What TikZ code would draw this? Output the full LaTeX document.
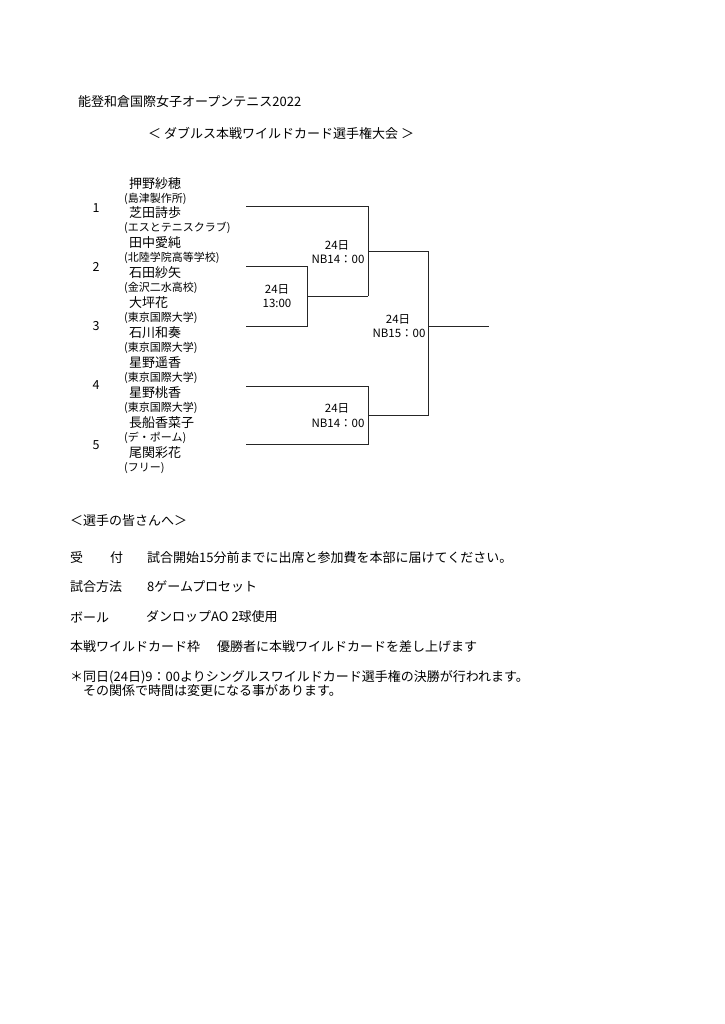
\documentclass[tikz,border=0pt]{standalone}
\usepackage{fontspec}
\setmainfont{Noto Sans CJK JP}
\begin{document}
\begin{tikzpicture}[x=1pt,y=-1pt,
  txt/.style={anchor=west,inner sep=0pt,font=\fontsize{13}{15}\selectfont},
  nm/.style={anchor=west,inner sep=0pt,font=\fontsize{13}{15}\selectfont},
  aff/.style={anchor=west,inner sep=0pt,font=\fontsize{11}{12}\selectfont},
  seed/.style={anchor=center,inner sep=0pt,font=\fontsize{12.5}{14}\selectfont},
  lab/.style={anchor=center,inner sep=0pt,font=\fontsize{11.5}{13}\selectfont},
  br/.style={line width=1pt,draw=black!85}]
\useasboundingbox[fill=white] (0,0) rectangle (724,1024);
% titles
\node[txt] (title) at (78,102) {能登和倉国際女子オープンテニス2022};
\node[txt] (sub) at (148,133) {＜ ダブルス本戦ワイルドカード選手権大会 ＞};
% players
\node[nm]  (n1)  at (129,184) {押野紗穂};
\node[aff] (f1)  at (124,199) {(島津製作所)};
\node[nm]  (n2)  at (129,213) {芝田詩歩};
\node[aff] (f2)  at (124,228) {(エスとテニスクラブ)};
\node[nm]  (n3)  at (129,243) {田中愛純};
\node[aff] (f3)  at (124,258) {(北陸学院高等学校)};
\node[nm]  (n4)  at (129,273) {石田紗矢};
\node[aff] (f4)  at (124,288) {(金沢二水高校)};
\node[nm]  (n5)  at (129,303) {大坪花};
\node[aff] (f5)  at (124,318) {(東京国際大学)};
\node[nm]  (n6)  at (129,333) {石川和奏};
\node[aff] (f6)  at (124,348) {(東京国際大学)};
\node[nm]  (n7)  at (129,363) {星野遥香};
\node[aff] (f7)  at (124,378) {(東京国際大学)};
\node[nm]  (n8)  at (129,393) {星野桃香};
\node[aff] (f8)  at (124,408) {(東京国際大学)};
\node[nm]  (n9)  at (129,423) {長船香菜子};
\node[aff] (f9)  at (124,438) {(デ・ポーム)};
\node[nm]  (n10) at (129,453) {尾関彩花};
\node[aff] (f10) at (124,468) {(フリー)};
% seeds
\node[seed] (s1) at (96,208) {1};
\node[seed] (s2) at (96,267) {2};
\node[seed] (s3) at (96,326) {3};
\node[seed] (s4) at (96,385) {4};
\node[seed] (s5) at (96,445) {5};
% bracket coordinates
\coordinate (a1) at (246,207); \coordinate (a1e) at (368,207);
\coordinate (a2) at (246,266); \coordinate (a2e) at (307,266);
\coordinate (a3) at (246,326); \coordinate (a3e) at (307,326);
\coordinate (m23) at (307,296); \coordinate (m23e) at (368,296);
\coordinate (q1) at (368,251); \coordinate (q1e) at (428,251);
\coordinate (a4) at (246,386); \coordinate (a4e) at (368,386);
\coordinate (a5) at (246,444); \coordinate (a5e) at (368,444);
\coordinate (q2) at (368,415); \coordinate (q2e) at (428,415);
\coordinate (fin) at (428,326); \coordinate (fine) at (489,326);
\draw[br] (a2) -- (a2e) -- (a3e) -- (a3);
\draw[br] (m23) -- (m23e);
\draw[br] (a1) -- (a1e) -- (m23e);
\draw[br] (q1) -- (q1e) -- (q2e) -- (q2);
\draw[br] (a4) -- (a4e) -- (a5e) -- (a5);
\draw[br] (fin) -- (fine);
% labels
\node[lab] (l1a) at (337,245) {24日};
\node[lab] (l1b) at (338,259) {NB14：00};
\node[lab] (l2a) at (277,289) {24日};
\node[lab] (l2b) at (277,303) {13:00};
\node[lab] (l3a) at (398,319) {24日};
\node[lab] (l3b) at (399,333) {NB15：00};
\node[lab] (l4a) at (337,408) {24日};
\node[lab] (l4b) at (338,423) {NB14：00};
% notes
\node[txt] (h) at (70,521) {＜選手の皆さんへ＞};
\node[txt] (k1) at (70,558) {受};
\node[txt] (k1b) at (110,558) {付};
\node[txt] (v1) at (147,558) {試合開始15分前までに出席と参加費を本部に届けてください。};
\node[txt] (k2) at (70,587) {試合方法};
\node[txt] (v2) at (147,587) {8ゲームプロセット};
\node[txt] (k3) at (70,617) {ボール};
\node[txt] (v3) at (146,617) {ダンロップAO 2球使用};
\node[txt] (k4) at (70,647) {本戦ワイルドカード枠};
\node[txt] (v4) at (217,647) {優勝者に本戦ワイルドカードを差し上げます};
\node[txt] (c1) at (70,677) {＊同日(24日)9：00よりシングルスワイルドカード選手権の決勝が行われます。};
\node[txt] (c2) at (83,691) {その関係で時間は変更になる事があります。};
\end{tikzpicture}
\end{document}
